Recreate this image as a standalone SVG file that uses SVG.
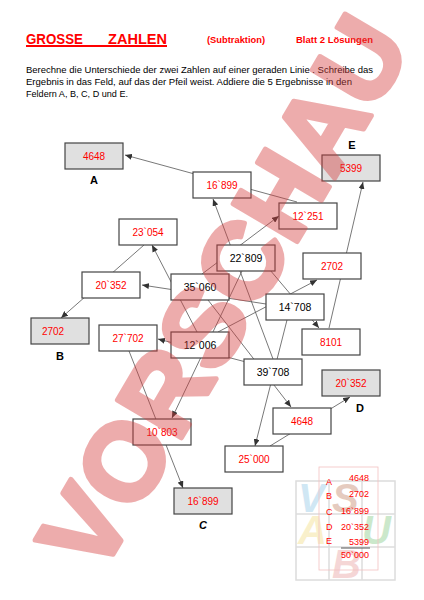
<svg xmlns="http://www.w3.org/2000/svg" width="424" height="600" viewBox="0 0 424 600">
<style>
.bx{fill:#fff;stroke:#444;stroke-width:1.2}
.gy{fill:#e0e0e0;stroke:#444;stroke-width:1.2}
.r{font-family:"Liberation Sans",Arial,sans-serif;font-size:10px;fill:#ff0000;text-anchor:middle}
.k{font-family:"Liberation Sans",Arial,sans-serif;font-size:10.5px;fill:#000;text-anchor:middle}
.lb{font-family:"Liberation Sans",Arial,sans-serif;font-size:11px;font-weight:bold;fill:#000;text-anchor:middle}
.ln{stroke:#555;stroke-width:0.8;fill:none}
.t{font-family:"Liberation Sans",Arial,sans-serif;font-size:9.5px;fill:#000}
.h{font-family:"Liberation Sans",Arial,sans-serif;font-weight:bold;fill:#ff0000}
.at{font-family:"Liberation Sans",Arial,sans-serif;font-size:9px;fill:#ff0000}
.lg{font-family:"Liberation Sans",Arial,sans-serif;font-size:40px;font-weight:bold;font-style:italic;opacity:0.4}
</style>
<defs>
<marker id="ar" markerWidth="7" markerHeight="6" refX="7" refY="3" orient="auto" markerUnits="userSpaceOnUse">
<path d="M0,0 L7,3 L0,6 z" fill="#333"/>
</marker>
</defs>

<g id="header">
<text class="h" font-size="15" y="44"><tspan x="26" textLength="57" lengthAdjust="spacingAndGlyphs">GROSSE</tspan><tspan x="108" textLength="59" lengthAdjust="spacingAndGlyphs">ZAHLEN</tspan></text>
<rect x="26" y="45" width="141" height="2" fill="#ff0000"/>
<text class="h" font-size="9" x="207" y="43" textLength="58" lengthAdjust="spacingAndGlyphs">(Subtraktion)</text>
<text class="h" font-size="9" x="296" y="43" textLength="77" lengthAdjust="spacingAndGlyphs">Blatt 2  Lösungen</text>
<text class="t" x="26" y="73" textLength="347" lengthAdjust="spacingAndGlyphs">Berechne die Unterschiede der zwei Zahlen auf einer geraden Linie . Schreibe das</text>
<text class="t" x="26" y="85" textLength="326" lengthAdjust="spacingAndGlyphs">Ergebnis in das Feld, auf das der Pfeil weist. Addiere die 5 Ergebnisse in den</text>
<text class="t" x="26" y="97" textLength="102" lengthAdjust="spacingAndGlyphs">Feldern A, B, C, D und E.</text>
</g>

<g id="connectors">
<line class="ln" x1="297" y1="202" x2="125" y2="155" marker-end="url(#ar)"/>
<line class="ln" x1="273" y1="359" x2="213" y2="199" marker-end="url(#ar)"/>
<line class="ln" x1="202" y1="274" x2="279" y2="216" marker-end="url(#ar)"/>
<line class="ln" x1="197" y1="332" x2="152" y2="245" marker-end="url(#ar)"/>
<line class="ln" x1="266" y1="304" x2="142" y2="285" marker-end="url(#ar)"/>
<line class="ln" x1="144" y1="245" x2="61" y2="318" marker-end="url(#ar)"/>
<line class="ln" x1="246" y1="362" x2="158" y2="339" marker-end="url(#ar)"/>
<line class="ln" x1="218" y1="332" x2="317" y2="280" marker-end="url(#ar)"/>
<line class="ln" x1="270" y1="270" x2="319" y2="328" marker-end="url(#ar)"/>
<line class="ln" x1="208" y1="300" x2="291" y2="407" marker-end="url(#ar)"/>
<line class="ln" x1="287" y1="320" x2="255" y2="446" marker-end="url(#ar)"/>
<line class="ln" x1="242" y1="271" x2="172" y2="418" marker-end="url(#ar)"/>
<line class="ln" x1="129" y1="351" x2="183" y2="488" marker-end="url(#ar)"/>
<line class="ln" x1="270" y1="446" x2="350" y2="397" marker-end="url(#ar)"/>
<line class="ln" x1="329" y1="328" x2="363" y2="182" marker-end="url(#ar)"/>
</g>

<g id="nA"><rect class="gy" x="65" y="143" width="58" height="26"/><text class="r" x="94" y="160">4648</text><text class="lb" x="94" y="184">A</text></g>
<g id="n16899"><rect class="bx" x="193" y="172" width="58" height="26"/><text class="r" x="222" y="189">16`899</text></g>
<g id="nE"><rect class="gy" x="322" y="155" width="58" height="26"/><text class="r" x="351" y="172">5399</text><text class="lb" x="352" y="149">E</text></g>
<g id="n12251"><rect class="bx" x="279" y="203" width="58" height="26"/><text class="r" x="308" y="220">12`251</text></g>
<g id="n23054"><rect class="bx" x="119" y="219" width="58" height="26"/><text class="r" x="148" y="236">23`054</text></g>
<g id="n22809"><rect class="bx" x="217" y="245" width="58" height="26"/><text class="k" x="246" y="262">22`809</text></g>
<g id="n2702r"><rect class="bx" x="303" y="253" width="58" height="26"/><text class="r" x="332" y="270">2702</text></g>
<g id="n20352"><rect class="bx" x="82" y="272" width="58" height="26"/><text class="r" x="111" y="289">20`352</text></g>
<g id="n35060"><rect class="bx" x="171" y="274" width="58" height="26"/><text class="k" x="200" y="291">35`060</text></g>
<g id="n14708"><rect class="bx" x="266" y="294" width="58" height="26"/><text class="k" x="295" y="311">14`708</text></g>
<g id="nB"><rect class="gy" x="31" y="318" width="58" height="26"/><text class="r" x="53" y="335">2702</text><text class="lb" x="60" y="360">B</text></g>
<g id="n27702"><rect class="bx" x="99" y="325" width="58" height="26"/><text class="r" x="128" y="342">27`702</text></g>
<g id="n12006"><rect class="bx" x="171" y="332" width="58" height="26"/><text class="k" x="200" y="349">12`006</text></g>
<g id="n8101"><rect class="bx" x="302" y="329" width="58" height="26"/><text class="r" x="331" y="346">8101</text></g>
<g id="n39708"><rect class="bx" x="244" y="359" width="58" height="26"/><text class="k" x="273" y="376">39`708</text></g>
<g id="nD"><rect class="gy" x="322" y="370" width="58" height="26"/><text class="r" x="351" y="387">20`352</text><text class="lb" x="360" y="412">D</text></g>
<g id="n4648"><rect class="bx" x="273" y="408" width="58" height="26"/><text class="r" x="302" y="425">4648</text></g>
<g id="n10803"><rect class="bx" x="133" y="419" width="58" height="26"/><text class="r" x="162" y="436">10`803</text></g>
<g id="n25000"><rect class="bx" x="225" y="446" width="58" height="26"/><text class="r" x="254" y="463">25`000</text></g>
<g id="nC"><rect class="gy" x="174" y="488" width="58" height="26"/><text class="r" x="203" y="505">16`899</text><text class="lb" x="203" y="529" font-style="italic">C</text></g>

<g id="answers">
<g fill="none" stroke="#dcdcdc" stroke-width="1.5">
<rect x="296" y="481" width="99" height="99"/>
<line x1="329" y1="481" x2="329" y2="580"/>
<line x1="362" y1="481" x2="362" y2="580"/>
<line x1="296" y1="514" x2="395" y2="514"/>
<line x1="296" y1="547" x2="395" y2="547"/>
</g>
<text class="lg" x="298" y="512" fill="#8cc4e4">V</text>
<text class="lg" x="332" y="512" fill="#c08060">S</text>
<text class="lg" x="298" y="544" fill="#f2dc80">A</text>
<text class="lg" x="362" y="544" fill="#80c880">U</text>
<text class="lg" x="332" y="578" fill="#e89a9a">B</text>
<rect x="319" y="467" width="59" height="103" fill="none" stroke="#f2c0c0" stroke-width="0.8"/>
<text class="at" x="326" y="485">A</text>
<text class="at" x="326" y="499">B</text>
<text class="at" x="326" y="515">C</text>
<text class="at" x="326" y="530">D</text>
<text class="at" x="326" y="544">E</text>
<g class="at" text-anchor="end">
<text x="369" y="481">4648</text>
<text x="369" y="497">2702</text>
<text x="369" y="514">16`899</text>
<text x="369" y="530">20`352</text>
<text x="369" y="545">5399</text>
<text x="369" y="558">50`000</text>
</g>
<line x1="341" y1="548" x2="370" y2="548" stroke="#555" stroke-width="1"/>
</g>

<g id="watermark" opacity="0.42" transform="translate(221,292) rotate(-59.5)">
<text x="0" y="40" text-anchor="middle" font-family="Liberation Sans,Arial,sans-serif" font-weight="bold" font-size="108" fill="#d63c3c" stroke="#d63c3c" stroke-width="5" stroke-linejoin="round">VORSCHAU</text>
</g>
</svg>
